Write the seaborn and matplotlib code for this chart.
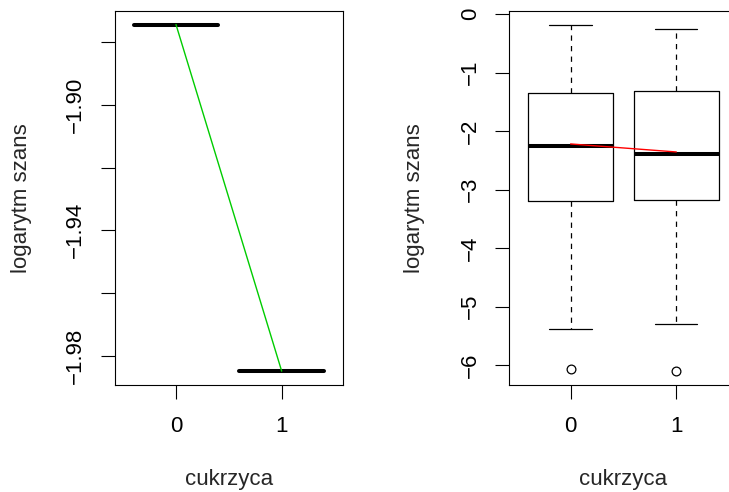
import matplotlib
matplotlib.use("Agg")
import matplotlib.pyplot as plt
import seaborn as sns

# ---- data ----
groups = ["0", "1"]
group_pos = [0, 1]

# left panel: log-odds constant within each group
left_values = [-1.8745, -1.9848]
left_means = [-1.8745, -1.9848]
left_yticks = [-1.88, -1.90, -1.92, -1.94, -1.96, -1.98]
left_yticklabels = ["", "\u22121.90", "", "\u22121.94", "", "\u22121.98"]

# right panel: box statistics per group
right_whislo = [-5.385, -5.29]
right_q1 = [-3.20, -3.18]
right_med = [-2.25, -2.39]
right_q3 = [-1.35, -1.31]
right_whishi = [-0.176, -0.25]
right_fliers = [[-6.06], [-6.10]]
right_means = [-2.217, -2.354]
right_yticks = [0, -1, -2, -3, -4, -5, -6]
right_yticklabels = ["0", "\u22121", "\u22122", "\u22123", "\u22124", "\u22125", "\u22126"]

xlabel = "cukrzyca"
ylabel = "logarytm szans"

# ---- style ----
sns.set_style("ticks")
plt.rcParams["font.family"] = ["Liberation Sans", "DejaVu Sans"]
plt.rcParams["lines.scale_dashes"] = False
FS = 16

fig = plt.figure(figsize=(7.29, 4.92), dpi=100)
ax1 = fig.add_axes([0.1573, 0.2175, 0.3132, 0.7608])
ax2 = fig.add_axes([0.6986, 0.2175, 0.3132, 0.7608])

box_lw = 0.9
med_lw = 2.9
whisk_style = dict(color="black", lw=box_lw, linestyle=(0, (3.8, 3.8)))


def stats_from(lo, q1, med, q3, hi, fl):
    out = []
    for i in range(len(med)):
        out.append(dict(whislo=lo[i], q1=q1[i], med=med[i], q3=q3[i],
                        whishi=hi[i], fliers=fl[i], label=groups[i]))
    return out


# left panel
left_stats = stats_from(left_values, left_values, left_values, left_values,
                        left_values, [[], []])
ax1.bxp(left_stats, positions=group_pos, widths=0.8, capwidths=0.4,
        boxprops=dict(color="black", lw=box_lw),
        medianprops=dict(color="black", lw=med_lw, solid_capstyle="round"),
        whiskerprops=whisk_style, capprops=dict(color="black", lw=box_lw),
        manage_ticks=False)
sns.lineplot(x=group_pos, y=left_means, color="#00CC00", lw=1.0, ax=ax1,
             zorder=5)
ax1.set_xlim(-0.58, 1.58)
ax1.set_ylim(-1.9892, -1.8701)
ax1.set_yticks(left_yticks)
ax1.set_yticklabels(left_yticklabels)

# right panel
right_stats = stats_from(right_whislo, right_q1, right_med, right_q3,
                         right_whishi, right_fliers)
ax2.bxp(right_stats, positions=group_pos, widths=0.8, capwidths=0.4,
        boxprops=dict(color="black", lw=box_lw),
        medianprops=dict(color="black", lw=med_lw, solid_capstyle="butt"),
        whiskerprops=whisk_style, capprops=dict(color="black", lw=box_lw),
        flierprops=dict(marker="o", markerfacecolor="none",
                        markeredgecolor="black", markersize=6.3,
                        markeredgewidth=0.9),
        manage_ticks=False)
sns.lineplot(x=group_pos, y=right_means, color="#FF0000", lw=1.0, ax=ax2,
             zorder=5)
ax2.set_xlim(-0.58, 1.58)
ax2.set_ylim(-6.337, 0.061)
ax2.set_yticks(right_yticks)
ax2.set_yticklabels(right_yticklabels)

for ax, ylx in ((ax1, -0.4074), (ax2, -0.413)):
    ax.set_xticks(group_pos)
    ax.set_xticklabels(groups)
    for s in ax.spines.values():
        s.set_visible(True)
        s.set_color("black")
        s.set_linewidth(0.8)
    ax.tick_params(axis="both", direction="out", length=10, width=0.8,
                   color="black", labelsize=FS, labelcolor="black")
    ax.tick_params(axis="x", pad=12)
    ax.tick_params(axis="y", pad=10.5, labelrotation=90)
    for lab in ax.get_yticklabels():
        lab.set_va("center")
    ax.set_xlabel(xlabel, fontsize=FS)
    ax.set_ylabel(ylabel, fontsize=FS)
    ax.xaxis.set_label_coords(0.5, -0.2538)
    ax.xaxis.label.set_va("center")
    ax.yaxis.set_label_coords(ylx, 0.5)
    ax.yaxis.label.set_va("center")
    ax.grid(False)

fig.savefig("out.png", dpi=100)
